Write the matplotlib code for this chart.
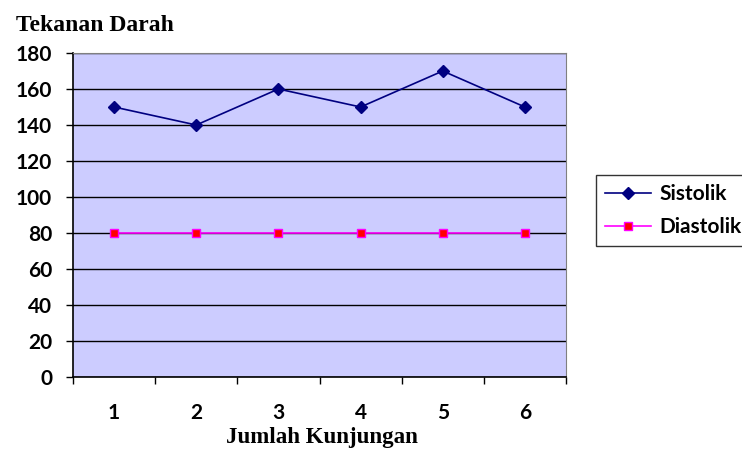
import matplotlib
matplotlib.use("Agg")
import matplotlib.pyplot as plt

categories = ["1", "2", "3", "4", "5", "6"]
sistolik = [150, 140, 160, 150, 170, 150]
diastolik = [80, 80, 80, 80, 80, 80]
yticks = [0, 20, 40, 60, 80, 100, 120, 140, 160, 180]

fig = plt.figure(figsize=(7.42, 4.5), dpi=100)
ax = fig.add_axes([73/742, 1-377/450, (566-73)/742, (377-53)/450])
ax.set_facecolor("#CCCCFF")

x = list(range(1, len(categories)+1))
ax.plot(x, sistolik, color="#000080", marker="D", markersize=6, lw=1.2, label="Sistolik")
ax.plot(x, diastolik, color="#FF00FF", marker="s", markersize=5.5, markerfacecolor="#FF0000",
        markeredgecolor="#FF00FF", lw=1.2, label="Diastolik")

tfont = dict(fontfamily="Lato", fontweight="bold", fontsize=15)
ax.set_xlim(0.5, 6.5)
ax.set_ylim(0, 180)
ax.set_yticks(yticks)
ax.set_yticklabels([str(v) for v in yticks], **tfont)
ax.set_xticks([i + 0.5 for i in range(0, 7)])
ax.set_xticklabels([])
ax.set_xticks(x, minor=True)
ax.set_xticklabels(categories, minor=True, **tfont)
ax.tick_params(axis="x", which="minor", length=0, pad=19)
ax.tick_params(axis="x", which="major", length=5, width=1, direction="out", color="black")
ax.tick_params(axis="y", length=5, width=1, direction="out", pad=10)
ax.yaxis.grid(True, color="black", lw=1)
ax.set_axisbelow(True)
for s in ["top", "right"]:
    ax.spines[s].set_color("#808080")
for s in ["left", "bottom"]:
    ax.spines[s].set_color("black")
    ax.spines[s].set_linewidth(1.2)

fig.text(16/742, 1-31/450, "Tekanan Darah", fontfamily="Liberation Serif", fontweight="bold",
         fontsize=17, va="baseline", ha="left")
fig.text(322/742, 1-443/450, "Jumlah Kunjungan", fontfamily="Liberation Serif", fontweight="bold",
         fontsize=16.5, va="baseline", ha="center")

leg = fig.legend(loc="upper left", bbox_to_anchor=(596/742, 1-175/450), frameon=True,
                 prop={"family": "Lato", "weight": "bold", "size": 15},
                 fancybox=False, edgecolor="black", handlelength=2.2, borderpad=0.45,
                 labelspacing=0.6, handletextpad=0.4, borderaxespad=0)
leg.get_frame().set_linewidth(1)

fig.savefig("out.png", dpi=100, facecolor="white")
